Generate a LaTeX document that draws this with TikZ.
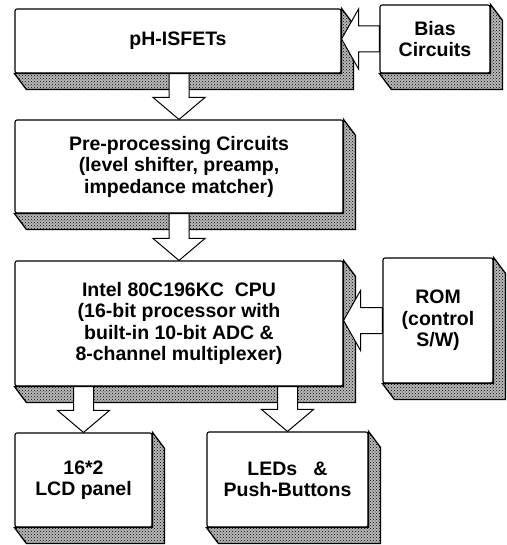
\documentclass[tikz,border=0pt]{standalone}
\usepackage{fontspec}
\setmainfont{Liberation Sans}
\usetikzlibrary{calc,patterns}

\newcommand\boxshade[1]{%
  \draw[shade3d] (#1.north east) -- ++(12pt,-16pt) |- ($(#1.south west)+(12pt,-16pt)$)
    -- (#1.south west) -- (#1.south east) -- cycle;}
\newcommand\downblock[2]{%
  \filldraw[blockarrow] let \p1=(#2.north), \p2=(#1.south) in
    (\p1) -- ++(-26pt,22pt) -- ++(16pt,0) -- (\x1-10pt,\y2) -- (\x1+10pt,\y2)
    -- (\x1+10pt,\y1+22pt) -- ++(16pt,0) -- cycle;}
\newcommand\leftblock[2]{%
  \filldraw[blockarrow] let \p1=(#2.east |- #1.west), \p2=(#1.west) in
    (\p1) -- ++(17pt,30pt) -- ++(0,-17pt) -- (\x2,\y1+13pt) -- (\x2,\y1-13pt)
    -- (\x1+17pt,\y1-13pt) -- ++(0,-17pt) -- cycle;}

\begin{document}
\begin{tikzpicture}[x=1pt,y=1pt,
    stage/.style={draw, line width=1.1pt, fill=white, rounded corners=2pt, align=center,
      inner sep=0pt, font=\bfseries\fontsize{19.5}{21.5}\selectfont},
    shade3d/.style={line width=1.3pt, preaction={fill=gray!55}, pattern=crosshatch dots},
    blockarrow/.style={draw, line width=1pt, fill=white}]
      \useasboundingbox (0,0) rectangle (506,-545);

      \node (isfet) at (178,-41) [stage, minimum width=326pt, minimum height=64pt] {pH-ISFETs};
      \node (bias) at (435,-39) [stage, minimum width=110pt, minimum height=68pt] {Bias\\Circuits};
      \node (pre) at (179,-166.5) [stage, minimum width=328pt, minimum height=93pt]
          {Pre-processing Circuits\\(level shifter, preamp,\\impedance matcher)};
      \node (cpu) at (179,-323.5) [stage, minimum width=328pt, minimum height=125pt]
          {Intel 80C196KC~~CPU\\(16-bit processor with\\built-in 10-bit ADC \&\\8-channel multiplexer)};
      \node (rom) at (438,-320.5) [stage, minimum width=110pt, minimum height=125pt] {ROM\\(control\\S/W)};
      \node (lcd) at (83.5,-480) [stage, minimum width=137pt, minimum height=94pt] {16*2\\LCD panel};
      \node (leds) at (287.5,-479.5) [stage, minimum width=161pt, minimum height=95pt] {LEDs~~~\&\\Push-Buttons};

      \foreach \b in {isfet,bias,pre,cpu,rom,lcd,leds}
          \boxshade{\b};

      \downblock{isfet}{pre}
      \downblock{pre}{cpu}
      \downblock{cpu}{lcd}
      \downblock{cpu}{leds}
      \leftblock{bias}{isfet}
      \leftblock{rom}{cpu}

\end{tikzpicture}
\end{document}
